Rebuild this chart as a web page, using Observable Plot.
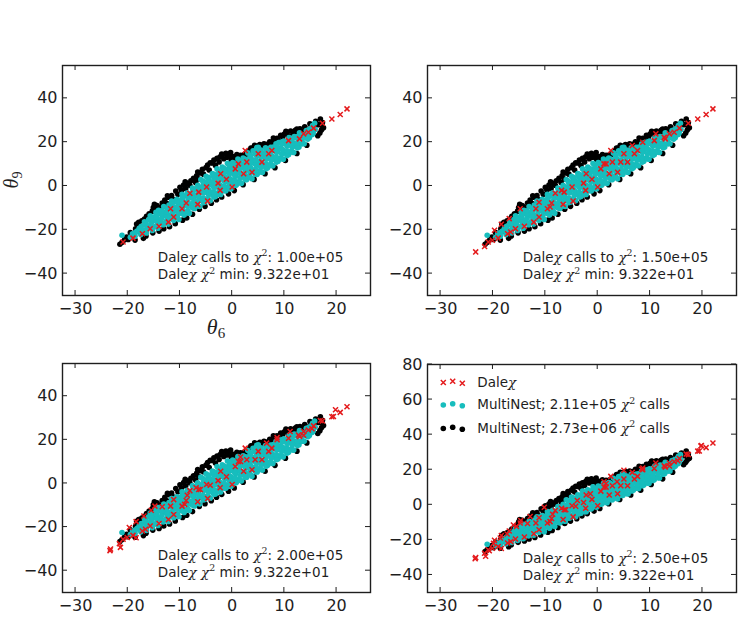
<!DOCTYPE html>
<html>
<head>
<meta charset="utf-8">
<script src="https://cdn.jsdelivr.net/npm/d3@7"></script>
<script src="https://cdn.jsdelivr.net/npm/@observablehq/plot@0.6"></script>
<style>
  body { margin: 0; background: #fff; }
  #fig { position: relative; width: 744px; height: 621px; font-family: "DejaVu Sans", sans-serif; }
  #fig svg { position: absolute; overflow: visible; }
</style>
</head>
<body>
<div id="fig"></div>
<script>
// θ6 / θ9 posterior samples from the two MultiNest runs and the Daleχ search.

// tick values
const xTicks = [-30, -20, -10, 0, 10, 20];
const yTicksMain = [-40, -20, 0, 20, 40];
const yTicksWide = [-40, -20, 0, 20, 40, 60, 80];

// MultiNest; 2.73e+06 χ² calls  (black)
const multiNestLong = [
  [-21.5,-26.6],[-21.1,-25.7],[-20.6,-24.6],[-20.2,-23.3],[-19.5,-21.3],[-19.9,-24.4],[-19.0,-22.1],
  [-18.6,-24.7],[-18.3,-17.4],[-18.5,-19.6],[-17.8,-18.4],[-17.3,-15.9],[-17.0,-23.9],[-17.6,-21.0],
  [-16.8,-15.1],[-16.4,-13.8],[-16.5,-22.8],[-15.9,-12.7],[-15.6,-14.9],[-15.1,-9.8],[-15.3,-11.5],
  [-15.2,-21.4],[-14.7,-10.9],[-14.4,-8.9],[-14.0,-20.6],[-13.9,-9.9],[-13.4,-7.8],[-13.1,-19.5],
  [-12.9,-6.4],[-12.5,-8.0],[-12.2,-5.1],[-12.0,-18.6],[-11.6,-4.4],[-11.2,-6.2],[-10.8,-2.3],
  [-10.9,-17.2],[-10.4,-3.8],[-10.0,-0.6],[-9.7,-2.0],[-9.5,-15.6],[-9.3,0.4],[-8.9,-1.1],[-8.6,1.2],
  [-8.7,-14.6],[-8.1,0.3],[-7.9,2.4],[-7.6,-12.9],[-7.4,3.5],[-7.0,1.6],[-6.8,4.6],[-6.4,3.2],
  [-6.1,5.9],[-6.3,-10.6],[-5.7,7.6],[-5.5,5.4],[-5.2,-9.3],[-5.0,8.4],[-4.7,9.6],[-4.4,7.3],
  [-4.0,-7.9],[-3.8,10.5],[-3.5,11.8],[-3.2,9.4],[-3.0,-6.3],[-2.9,12.6],[-2.5,11.0],[-2.3,13.3],
  [-2.0,-5.0],[-1.9,14.2],[-1.6,12.4],[-1.2,14.9],[-1.0,13.1],[-0.7,-3.6],[-0.6,14.0],[-0.2,12.1],
  [0.2,13.4],[0.4,-2.1],[0.6,12.4],[0.9,14.3],[1.3,12.9],[1.6,14.0],[2.0,13.2],[2.3,14.3],
  [2.1,0.6],[2.7,15.1],[3.1,14.2],[3.4,16.4],[3.8,17.2],[4.3,18.6],[4.2,3.0],[4.9,18.2],
  [5.3,18.9],[5.8,18.4],[6.1,19.3],[6.3,5.6],[6.7,19.0],[7.2,20.2],[7.7,19.6],
  [8.0,21.1],[8.2,8.3],[8.6,21.8],[8.9,20.7],[9.3,23.1],[9.7,22.4],[10.0,23.7],[10.4,24.6],
  [10.2,11.6],[10.8,22.9],[11.2,25.1],[11.7,24.0],[12.1,25.4],[12.4,14.8],[12.6,23.6],
  [13.0,26.1],[13.6,25.1],[13.9,27.0],[14.3,18.6],[14.5,25.9],[14.9,28.4],
  [15.6,27.3],[16.0,29.5],[16.4,22.9],[16.5,28.0],[16.9,30.6],[17.1,25.5],[17.3,29.0],[17.5,26.6],
  [16.8,24.2],[17.2,27.6],
  [-17.9,-16.6],[-14.9,-8.4],[-12.4,-4.5],[-9.0,1.9],[-6.6,6.4],[-4.2,10.6],[-2.0,14.6],[-0.3,15.3],
  [3.6,17.3],[7.9,21.9],[10.3,25.0],[12.4,26.0]
];

// MultiNest; 2.11e+05 χ² calls  (cyan)
const multiNestShort = [
  [-21.1,-22.5],
  [-19.5,-23.4],[-19.1,-21.8],[-18.6,-22.9],[-18.2,-20.6],[-17.8,-19.3],
  [-17.5,-22.2],[-17.0,-20.5],[-17.4,-18.4],[-16.8,-16.3],
  [-16.4,-21.5],[-15.9,-19.0],[-16.5,-17.6],[-16.0,-15.3],[-15.7,-13.6],
  [-15.3,-20.3],[-14.8,-18.6],[-15.2,-15.8],[-15.0,-14.2],[-14.6,-12.0],
  [-14.2,-19.3],[-13.7,-16.7],[-14.3,-15.4],[-13.8,-12.6],[-14.1,-11.1],
  [-13.2,-17.7],[-12.7,-16.4],[-13.3,-13.7],[-12.8,-12.1],[-13.1,-9.4],
  [-12.2,-17.4],[-11.7,-14.7],[-12.3,-13.2],[-11.8,-10.4],[-12.1,-8.7],[-11.6,-6.9],
  [-11.2,-15.7],[-10.7,-14.2],[-11.3,-11.5],[-10.8,-9.9],[-11.1,-7.1],[-10.6,-6.1],
  [-10.2,-15.3],[-9.7,-12.5],[-10.3,-10.9],[-9.8,-8.1],[-10.1,-6.5],[-9.6,-3.8],
  [-9.2,-13.3],[-8.7,-11.8],[-9.3,-9.0],[-8.8,-7.4],[-9.1,-4.6],[-8.6,-3.1],
  [-8.2,-12.4],[-7.7,-9.7],[-8.3,-8.1],[-7.8,-5.3],[-8.1,-3.7],[-7.6,-1.0],
  [-7.2,-10.3],[-6.7,-8.7],[-7.3,-5.9],[-6.8,-4.3],[-7.1,-1.5],[-6.6,0.3],
  [-6.2,-9.4],[-5.7,-6.7],[-6.3,-5.1],[-5.8,-2.3],[-6.1,-0.6],[-5.6,2.2],[-6.0,2.9],
  [-5.2,-7.3],[-4.7,-5.8],[-5.3,-3.0],[-4.8,-1.4],[-5.1,1.4],[-4.6,3.0],[-5.0,4.4],
  [-4.2,-6.8],[-3.7,-4.1],[-4.3,-2.5],[-3.8,0.3],[-4.1,1.9],[-3.6,4.7],[-3.8,5.7],
  [-3.2,-4.8],[-2.7,-3.3],[-3.3,-0.5],[-2.8,1.1],[-3.1,3.9],[-2.6,5.5],[-2.9,7.8],
  [-2.2,-3.9],[-1.7,-1.2],[-2.3,0.4],[-1.8,3.2],[-2.1,4.8],[-1.6,7.6],[-1.9,8.6],
  [-1.2,-2.2],[-0.7,-0.7],[-1.3,2.1],[-0.8,3.7],[-1.1,6.5],[-0.6,8.1],[-0.9,10.3],
  [-0.2,-1.3],[0.3,1.4],[-0.3,3.0],[0.2,5.8],[-0.1,7.4],[0.4,9.9],[0.1,10.7],
  [0.8,0.4],[1.3,1.9],[0.7,4.7],[1.2,6.3],[0.9,9.1],[1.4,10.3],[1.1,12.3],
  [1.8,1.2],[2.3,3.9],[1.7,5.5],[2.2,8.3],[1.9,9.9],[2.4,12.3],[2.1,12.7],
  [2.8,2.9],[3.3,4.4],[2.7,7.2],[3.2,8.8],[2.9,11.6],[3.4,13.0],[3.0,15.1],
  [3.8,3.3],[4.3,6.0],[3.7,7.6],[4.2,10.4],[3.9,12.0],[4.4,14.8],[4.0,16.1],[4.7,17.5],
  [4.8,5.3],[5.3,6.8],[4.7,9.6],[5.2,11.2],[4.9,14.0],[5.4,15.5],[5.0,17.7],
  [5.8,6.2],[6.3,8.9],[5.7,10.5],[6.2,13.3],[5.9,14.9],[6.4,17.4],
  [6.8,8.3],[7.3,9.8],[6.7,12.6],[7.2,14.2],[6.9,16.9],[7.4,17.6],
  [7.8,9.2],[8.3,11.9],[7.7,13.5],[8.2,16.3],[7.9,17.8],[8.4,19.3],
  [8.8,11.3],[9.3,12.8],[8.7,15.6],[9.2,17.2],[8.9,19.8],[9.4,20.0],
  [9.8,12.2],[10.3,14.9],[9.7,16.5],[10.2,19.3],[9.9,20.5],
  [10.8,14.3],[11.3,15.8],[10.7,18.6],[11.2,20.0],[10.9,22.1],
  [11.8,15.3],[12.3,18.0],[11.7,19.6],[12.2,22.0],[11.9,22.6],
  [12.8,17.8],[13.3,19.3],[12.7,21.9],[13.2,22.9],[12.9,24.3],
  [13.8,19.3],[14.3,21.9],[13.7,23.2],[14.2,25.3],
  [14.8,22.0],[15.3,23.4],[14.7,25.8],[15.2,26.5],
  [15.5,24.5],[15.9,25.8],[15.4,27.6],[15.8,28.6],
  [-18.5,-21.2],
  [-17.5,-20.8],[-17.5,-19.1],
  [-16.5,-20.1],[-16.5,-18.0],[-16.5,-16.9],
  [-15.5,-19.2],[-15.5,-17.1],[-15.5,-15.0],
  [-14.5,-18.3],[-14.5,-16.2],[-14.5,-13.9],[-14.5,-12.9],
  [-13.5,-16.9],[-13.5,-14.8],[-13.5,-12.5],[-13.5,-11.3],
  [-12.5,-15.8],[-12.5,-13.9],[-12.5,-11.6],[-12.5,-10.2],
  [-11.5,-15.1],[-11.5,-12.9],[-11.5,-10.7],[-11.5,-8.5],
  [-10.5,-13.9],[-10.5,-11.8],[-10.5,-9.4],[-10.5,-7.3],
  [-9.5,-12.4],[-9.5,-10.2],[-9.5,-8.1],[-9.5,-5.9],[-9.5,-4.9],
  [-8.5,-11.5],[-8.5,-9.4],[-8.5,-7.0],[-8.5,-4.8],[-8.5,-3.9],
  [-7.5,-10.0],[-7.5,-7.8],[-7.5,-5.6],[-7.5,-3.5],[-7.5,-1.9],
  [-6.5,-9.1],[-6.5,-6.9],[-6.5,-4.5],[-6.5,-2.4],[-6.5,-0.3],
  [-5.5,-7.6],[-5.5,-5.5],[-5.5,-3.2],[-5.5,-1.1],[-5.5,1.1],
  [-4.5,-6.2],[-4.5,-4.0],[-4.5,-1.8],[-4.5,0.5],[-4.5,2.7],[-4.5,3.9],
  [-3.5,-5.0],[-3.5,-2.9],[-3.5,-0.7],[-3.5,1.6],[-3.5,3.8],[-3.5,5.3],
  [-2.5,-3.8],[-2.5,-1.6],[-2.5,0.6],[-2.5,2.8],[-2.5,5.0],[-2.5,6.6],
  [-1.5,-2.2],[-1.5,0.0],[-1.5,2.3],[-1.5,4.5],[-1.5,6.6],[-1.5,8.0],
  [-0.5,-1.1],[-0.5,1.1],[-0.5,3.4],[-0.5,5.6],[-0.5,7.8],[-0.5,9.3],
  [0.5,0.3],[0.5,2.6],[0.5,4.8],[0.5,7.0],[0.5,9.0],[0.5,10.3],
  [1.5,1.4],[1.5,3.6],[1.5,5.8],[1.5,8.0],[1.5,10.2],[1.5,11.5],
  [2.5,2.9],[2.5,5.1],[2.5,7.3],[2.5,9.5],[2.5,11.7],
  [3.5,4.0],[3.5,6.2],[3.5,8.4],[3.5,10.6],[3.5,12.8],[3.5,14.0],
  [4.5,5.4],[4.5,7.6],[4.5,9.8],[4.5,12.0],[4.5,14.2],[4.5,15.8],
  [5.5,6.4],[5.5,8.6],[5.5,10.8],[5.5,13.0],[5.5,15.2],[5.5,16.4],
  [6.5,7.9],[6.5,10.1],[6.5,12.3],[6.5,14.5],[6.5,16.3],
  [7.5,9.4],[7.5,11.6],[7.5,13.8],[7.5,16.0],[7.5,17.0],
  [8.5,10.9],[8.5,13.1],[8.5,15.3],[8.5,17.5],[8.5,18.4],
  [9.5,12.4],[9.5,14.6],[9.5,16.8],[9.5,19.0],
  [10.5,13.9],[10.5,16.1],[10.5,18.3],[10.5,20.3],
  [11.5,15.4],[11.5,17.6],[11.5,19.8],[11.5,21.4],
  [12.5,17.4],[12.5,19.6],[12.5,21.8],[12.5,22.6],
  [13.5,19.4],[13.5,21.6],[13.5,23.3],
  [14.5,21.4],[14.5,23.4],[14.5,24.9],
  [15.5,23.9],[15.5,25.9]
];

// Daleχ samples, in the order they were found (each stage adds to the previous ones)
const daleStage1 = [
  [-20.9,-25.6],[-19.0,-23.8],[-17.2,-21.8],[-15.7,-19.5],[-14.0,-18.4],[-12.2,-16.5],[-11.8,-10.4],
  [-11.2,-14.2],[-9.6,-10.4],[-8.8,-7.8],[-8.1,-3.3],[-6.6,-8.4],[-6.4,-2.8],[-4.9,-0.5],[-4.7,-6.9],
  [-2.7,1.3],[-2.2,5.6],[-2.3,-2.0],[0.0,-0.5],[-1.1,3.1],[0.6,7.8],[1.2,10.1],[2.2,5.6],[2.8,10.9],
  [2.5,16.2],[3.8,6.3],[5.0,14.7],[5.7,10.9],[7.0,14.7],[7.6,16.2],[10.8,20.7],[12.9,21.5],
  [13.7,23.8],[14.6,24.5],[15.6,26.4],[17.3,28.6],[19.1,30.6],[20.7,32.6],[22.0,35.2]
];
const daleStage2 = [
  [-23.3,-30.1],[-21.6,-27.6],[-20.1,-24.8],[-19.7,-20.2],[-18.4,-17.5],[-16.9,-14.9],[-16.6,-21.0],
  [-14.8,-10.4],[-11.2,-7.4],[-9.1,-9.6],[-6.9,-2.0],[1.6,10.1],[4.4,10.9],[6.6,18.5],[8.6,20.0],
  [11.1,23.8],[12.7,22.2]
];
const daleStage3 = [
  [-23.4,-30.8],[-21.4,-29.3],[-18.4,-24.9],[-15.5,-12.3],[-13.4,-10.7],[-8.6,-5.4],[-6.1,-2.8],
  [-4.2,-0.8],[1.6,12.1],[8.6,21.0],[13.7,22.1],[15.3,25.1],[16.9,28.9],[19.4,30.7],[19.8,33.8]
];
const daleStage4 = [
  [-20.7,-26.2],[-19.9,-22.0],[-18.6,-18.9],[-17.3,-16.6],[-16.1,-11.5],[-14.7,-9.0],[-12.9,-6.7],
  [-10.2,-1.4],[-3.9,2.5],[-1.4,6.3],[1.2,13.1],[3.7,13.1],[5.0,19.7],[8.4,20.3],[19.7,33.5]
];
const daleStages = [daleStage1, daleStage2, daleStage3, daleStage4];

// per-panel annotation values
const daleCalls = ["1.00e+05", "1.50e+05", "2.00e+05", "2.50e+05"];
const daleChi2Min = ["9.322e+01", "9.322e+01", "9.322e+01", "9.322e+01"];

const legendLabels = ["Daleχ", "MultiNest; 2.11e+05 χ^2 calls", "MultiNest; 2.73e+06 χ^2 calls"];

const RED = "#e41a1c", CYAN = "#17bdbd", INK = "#1e1e1e";
const TICK_FONT = 16, NOTE_FONT = 13.5;

const panels = [
  {left: 0,   top: 0,   width: 372, height: 350, mL: 62, mR: 2, mT: 65, mB: 55, yDomain: [-50, 55], yTicks: yTicksMain, note: [-33.5, -16.3]},
  {left: 372, top: 0,   width: 372, height: 350, mL: 55, mR: 8, mT: 65, mB: 55, yDomain: [-50, 55], yTicks: yTicksMain, note: [-33.5, -16.3]},
  {left: 0,   top: 350, width: 372, height: 271, mL: 62, mR: 2, mT: 13, mB: 29, yDomain: [-50, 55], yTicks: yTicksMain, note: [-33, -15.5]},
  {left: 372, top: 350, width: 372, height: 271, mL: 55, mR: 8, mT: 14, mB: 29, yDomain: [-50, 80], yTicks: yTicksWide, note: [-30, -12.5]}
];

// Render a string with χ set in math italic and "^2" as a superscript.
function mathText(sel, str, size) {
  sel.text(null);
  const up = size * 0.42;
  let shifted = false;
  for (const part of str.split(/(χ|\^2)/)) {
    if (!part) continue;
    const t = sel.append("tspan");
    if (shifted) { t.attr("dy", up); shifted = false; }
    if (part === "χ") {
      t.attr("font-family", "'DejaVu Serif', serif").attr("font-style", "italic").text("χ");
    } else if (part === "^2") {
      t.attr("font-family", "'DejaVu Serif', serif").attr("font-size", size * 0.7).attr("dy", -up).text("2");
      shifted = true;
    } else {
      t.text(part);
    }
  }
}

const fig = d3.select("#fig");

panels.forEach((p, i) => {
  const dale = daleStages.slice(0, i + 1).flat();
  const noteDx = 95.3;
  const chart = Plot.plot({
    width: p.width, height: p.height,
    marginLeft: p.mL, marginRight: p.mR, marginTop: p.mT, marginBottom: p.mB,
    style: {fontFamily: "DejaVu Sans, sans-serif", fontSize: TICK_FONT + "px", color: INK, background: "transparent"},
    x: {domain: [-32.5, 26.5], label: null},
    y: {domain: p.yDomain, label: null},
    marks: [
      Plot.axisX({ticks: xTicks, tickSize: 0, tickPadding: 7, label: null, fontSize: TICK_FONT}),
      Plot.axisY({ticks: p.yTicks, tickSize: 0, tickPadding: 5, label: null, fontSize: TICK_FONT}),
      Plot.dot(multiNestLong, {x: d => d[0], y: d => d[1], r: 2.8, fill: "#000"}),
      Plot.dot(multiNestShort, {x: d => d[0], y: d => d[1], r: 2.8, fill: CYAN}),
      Plot.dot(dale, {x: d => d[0], y: d => d[1], symbol: "times", r: 2.4, stroke: RED, strokeWidth: 1.5}),
      Plot.text([`Daleχ calls to χ^2: ${daleCalls[i]}`], {
        frameAnchor: "bottom-left", dx: noteDx, dy: p.note[0], text: d => d,
        textAnchor: "start", lineAnchor: "bottom", fontSize: NOTE_FONT, fill: INK, className: "note"
      }),
      Plot.text([`Daleχ χ^2 min: ${daleChi2Min[i]}`], {
        frameAnchor: "bottom-left", dx: noteDx, dy: p.note[1], text: d => d,
        textAnchor: "start", lineAnchor: "bottom", fontSize: NOTE_FONT, fill: INK, className: "note"
      }),
      Plot.frame({stroke: INK, strokeWidth: 1.4})
    ]
  });

  const svg = d3.select(chart)
    .style("left", p.left + "px").style("top", p.top + "px");

  svg.selectAll(".note text").each(function () {
    mathText(d3.select(this), this.textContent, NOTE_FONT);
  });

  // inward ticks on all four sides
  const sx = chart.scale("x"), sy = chart.scale("y");
  const x0 = p.mL, x1 = p.width - p.mR, y0 = p.mT, y1 = p.height - p.mB;
  const tk = svg.append("g").attr("stroke", INK).attr("stroke-width", 1);
  for (const v of xTicks) {
    const px = sx.apply(v);
    tk.append("line").attr("x1", px).attr("x2", px).attr("y1", y1).attr("y2", y1 - 5);
    tk.append("line").attr("x1", px).attr("x2", px).attr("y1", y0).attr("y2", y0 + 5);
  }
  for (const v of p.yTicks) {
    const py = sy.apply(v);
    tk.append("line").attr("y1", py).attr("y2", py).attr("x1", x0).attr("x2", x0 + 5);
    tk.append("line").attr("y1", py).attr("y2", py).attr("x1", x1).attr("x2", x1 - 5);
  }

  if (i === 0) {
    // axis labels θ6 (x) and θ9 (y)
    const xl = svg.append("text").attr("x", (x0 + x1) / 2).attr("y", 334)
      .attr("text-anchor", "middle").attr("fill", INK)
      .attr("font-family", "'Liberation Serif', serif").attr("font-size", 22);
    xl.append("tspan").attr("font-style", "italic").text("θ");
    xl.append("tspan").attr("font-size", 15).attr("dy", 4).text("6");
    const yl = svg.append("text")
      .attr("transform", `translate(18,${(y0 + y1) / 2}) rotate(-90)`)
      .attr("text-anchor", "middle").attr("fill", INK)
      .attr("font-family", "'Liberation Serif', serif").attr("font-size", 20);
    yl.append("tspan").attr("font-style", "italic").text("θ");
    yl.append("tspan").attr("font-size", 14).attr("dy", 4).text("9");
  }

  if (i === 3) {
    // legend, top-left inside the frame
    const lg = svg.append("g").attr("transform", `translate(${x0},${y0})`)
      .attr("text-anchor", "start");
    const rows = [18, 40.5, 64];
    const mx = [16.3, 25.7, 35.3];
    const jitter = [0.5, -0.8, 1.2];
    const times = d3.symbol(d3.symbolTimes, 2.4 * 2.4 * Math.PI)();
    rows.forEach((ry, k) => {
      mx.forEach((xx, j) => {
        if (k === 0) {
          lg.append("path").attr("d", times)
            .attr("transform", `translate(${xx},${ry + jitter[j]})`)
            .attr("fill", "none").attr("stroke", RED).attr("stroke-width", 1.5);
        } else {
          lg.append("circle").attr("cx", xx).attr("cy", ry + jitter[j]).attr("r", 2.8)
            .attr("fill", k === 1 ? CYAN : "#000");
        }
      });
      const t = lg.append("text").attr("x", 50.3).attr("y", ry).attr("dy", "0.36em")
        .attr("text-anchor", "start").attr("fill", INK).attr("font-size", NOTE_FONT);
      mathText(t, legendLabels[k], NOTE_FONT);
    });
  }

  fig.node().appendChild(chart);
});
</script>
</body>
</html>
